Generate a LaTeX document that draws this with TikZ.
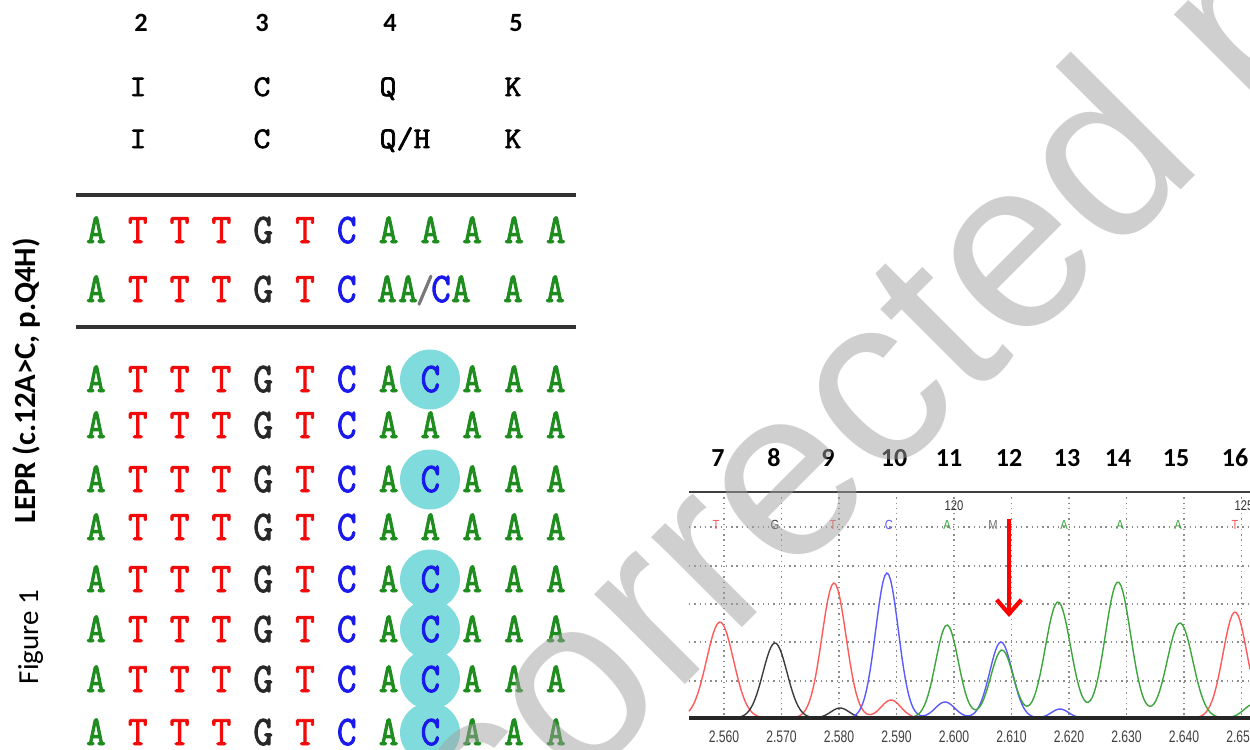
\documentclass[tikz,border=0pt]{standalone}
\usepackage{fontspec}
\setmainfont{Liberation Sans}
\newfontfamily\calibri{Carlito}
\newfontfamily\seqfont{Latin Modern Mono}[FakeBold=2.2]
\newfontfamily\arial{Liberation Sans}
\usetikzlibrary{arrows.meta}
\definecolor{seqA}{RGB}{30,140,30}
\definecolor{seqT}{RGB}{240,10,10}
\definecolor{seqG}{RGB}{40,40,40}
\definecolor{seqC}{RGB}{25,25,235}
\definecolor{seqS}{RGB}{120,120,120}
\definecolor{hlc}{RGB}{128,220,220}
\definecolor{trR}{RGB}{255,90,90}
\definecolor{trB}{RGB}{90,90,255}
\definecolor{trG}{RGB}{60,165,60}
\definecolor{trK}{RGB}{60,60,60}
\definecolor{wmc}{RGB}{160,160,160}
\definecolor{rulec}{RGB}{50,50,50}
\begin{document}
\begin{tikzpicture}[x=0.02cm,y=-0.02cm,
  seq/.style={font=\seqfont\fontsize{24}{24}\selectfont, inner sep=0pt, anchor=base, xscale=0.9},
  hdr/.style={font=\seqfont\fontsize{17}{18}\selectfont, inner sep=0pt, anchor=base, xscale=1.1},
  num/.style={font=\calibri\bfseries\fontsize{15}{15}\selectfont, inner sep=0pt},
  cnum/.style={font=\calibri\bfseries\fontsize{14.8}{15}\selectfont, inner sep=0pt},
  lab/.style={font=\calibri\fontsize{16.5}{17}\selectfont, inner sep=0pt, anchor=base, rotate=90},
  rule/.style={rulec, line width=1.8pt},
  gridl/.style={black!45, line width=0.7pt, dash pattern=on 0.8pt off 2.2pt},
  axisl/.style={black!75, line width=0.9pt},
  basel/.style={black!85, line width=1.8pt},
  trace/.style={line width=0.8pt},
  call/.style={font=\arial\fontsize{7.5}{8}\selectfont, inner sep=0pt, xscale=0.85},
  small/.style={font=\arial\fontsize{8}{8}\selectfont, inner sep=0pt, xscale=0.8, text=black!80},
  tick/.style={font=\arial\fontsize{9.5}{10}\selectfont, inner sep=0pt, xscale=0.73, text=black!75},
  redarrow/.style={red, line width=2.4pt, -{Straight Barb[length=8pt,width=14pt]}},
  wmark/.style={font=\arial\fontsize{137.7}{140}\selectfont, text=wmc, text opacity=0.5, rotate=45, inner sep=0pt},
  declare function={gw(\x,\c,\h,\s)=\h*exp(max(-20,-((\x-\c)/\s)^2));}
]
\useasboundingbox (0,0) rectangle (1250,750);
\clip (0,0) rectangle (1250,750);

% ---------- left panel : header ----------
\foreach \n/\x in {2/141,3/262,4/390,5/516}
  \node[num] (n\n) at (\x,23) {\n};
\node[hdr] (p1) at (138,96) {I};
\node[hdr] (p2) at (262,96) {C};
\node[hdr] (p3) at (388,96) {Q};
\node[hdr] (p4) at (513,96) {K};
\node[hdr] (q1) at (138,148) {I};
\node[hdr] (q2) at (262,148) {C};
\node[hdr] (q3) at (405,148) {Q/H};
\node[hdr] (q4) at (513,148) {K};

\draw[rule] (76,195) -- (576,195);
\draw[rule] (76,327) -- (576,327);

% ---------- highlights ----------
\foreach \r/\yb in {3/392,5/492,7/592,8/642,9/692,10/745}
  \fill[hlc] (430,\yb-12.5) circle[radius=30];

% ---------- reference rows ----------
\foreach \b [count=\c from 0] in {A,T,T,T,G,T,C,A,A,A,A,A}
  \node[seq, text=seq\b] (s1-\c) at ({96+41.8*\c},243) {\b};
\foreach \b [count=\c from 0] in {A,T,T,T,G,T,C}
  \node[seq, text=seq\b] (s2-\c) at ({96+41.8*\c},302) {\b};
\node[seq, text=seqA] (s2-7) at (387,302) {A};
\node[seq, text=seqA] (s2-8) at (408,302) {A};
\node[seq, text=seqS, font=\seqfont\fontsize{22}{22}\selectfont] (s2-s) at (425,302) {/};
\node[seq, text=seqC] (s2-9) at (441,302) {C};
\node[seq, text=seqA] (s2-10) at (461,302) {A};
\node[seq, text=seqA] (s2-11) at (513,302) {A};
\node[seq, text=seqA] (s2-12) at (555,302) {A};

% ---------- sample rows ----------
\foreach \r/\yb/\hl in {3/392/1,4/438/0,5/492/1,6/540/0,7/592/1,8/642/1,9/692/1,10/745/1}{
  \ifnum\hl=1 \def\seqlist{A,T,T,T,G,T,C,A,C,A,A,A}\else\def\seqlist{A,T,T,T,G,T,C,A,A,A,A,A}\fi
  \foreach \b [count=\c from 0] in \seqlist
    \node[seq, text=seq\b] (s\r-\c) at ({96+41.8*\c},\yb) {\b};
}

% ---------- vertical labels ----------
\node[lab, font=\calibri\bfseries\fontsize{17.5}{18}\selectfont] (lepr) at (35,381) {LEPR (c.12A>C, p.Q4H)};
\node[lab] (fig) at (38,637) {Figure 1};

% ---------- chromatogram ----------
\foreach \n/\x in {7/718,8/774,9/828,10/894,11/949,12/1009,13/1067,14/1118,15/1176,16/1235}
  \node[cnum] (c\n) at (\x,458) {\n};

\foreach \y in {527,566,604,642,681}
  \draw[gridl] (689,\y) -- (1250,\y);
\foreach \k in {0,...,9}
  \draw[gridl] ({724+57.5*\k},492) -- ({724+57.5*\k},718);
\draw[axisl] (689,492) -- (1250,492);

\node[small] (l120) at (954,506) {120};
\node[small] (l125) at (1244,506) {125};

\foreach \x/\b/\col in {716/T/trR,775/G/trK,833/T/trR,889/C/trB,947/A/trG,993/M/black!55,1064/A/trG,1120/A/trG,1178/A/trG,1235/T/trR}
  \node[call, text=\col] (bc\x) at (\x,525) {\b};

% traces
\draw[trace, trR] plot[domain=689:1250, samples=280]
  (\x, {718 - gw(\x,720,96,19) - gw(\x,834,135,17) - gw(\x,891,18,14) - gw(\x,1235,106,17)});
\draw[trace, trK] plot[domain=700:880, samples=100]
  (\x, {718 - gw(\x,775,75,17) - gw(\x,840,10,13)});
\draw[trace, trB] plot[domain=840:1100, samples=140]
  (\x, {718 - gw(\x,887,145,16) - gw(\x,945,16,14) - gw(\x,1001,76,16) - gw(\x,1060,9,12)});
\draw[trace, trG] plot[domain=905:1250, samples=180]
  (\x, {718 - gw(\x,947,93,16) - gw(\x,1002,68,16) - gw(\x,1058,116,18) - gw(\x,1118,136,18) - gw(\x,1180,95,18) - gw(\x,1254,14,14)});

\draw[basel] (689,718) -- (1250,718);

\foreach \k/\t in {0/2.560,1/2.570,2/2.580,3/2.590,4/2.600,5/2.610,6/2.620,7/2.630,8/2.640,9/2.650}
  \node[tick] (t\k) at ({724+57.5*\k},737) {\t};

\coordinate (arT) at (1009,519);
\coordinate (arH) at (1009,617);
\draw[redarrow] (arT) -- (arH);

% ---------- watermark ----------
\node[wmark] (wm) at (915,367) {Uncorrected proof};
\end{tikzpicture}
\end{document}
